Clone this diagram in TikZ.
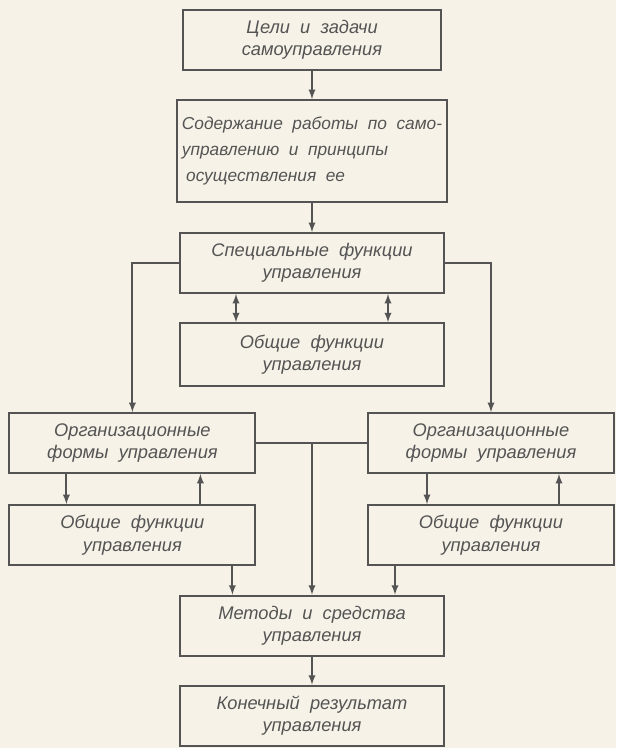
\documentclass[tikz,border=0pt]{standalone}
\usepackage{fontspec}
\setmainfont{Liberation Sans}[WordSpace={2,1.5,1}]
\usetikzlibrary{arrows, positioning}
\definecolor{paper}{RGB}{246,242,231}
\definecolor{ink}{RGB}{84,84,84}
\tikzset{
    mybox/.style = {
        rectangle,
        draw=ink,
        text=ink,
        line width=1.3pt,
        minimum width=6.6cm,
        minimum height=1.5cm,
        align=center,
        font=\fontsize{13}{16}\selectfont\itshape
    },
    mysidebox/.style = {
        mybox,
        minimum width=6.15cm
    },
    myarrow/.style = {
        draw=ink,
        line width=1.3pt,
        ->,
        >=latex
    },
    myline/.style = {
        draw=ink,
        line width=1.3pt
    }
}
\begin{document}
\begin{tikzpicture}[node distance=2.8cm]

% Fundo e limites
\fill[paper] (-7.8,1.0) rectangle (7.6,-17.7);

% Eixo central
\node (celi) [mybox, minimum width=6.45cm] {Цели и задачи\\самоуправления};
\node (soderzh) [mybox, below of=celi, node distance=2.775cm, minimum width=6.75cm, minimum height=2.55cm, align=left, font=\fontsize{12.3}{18.5}\selectfont\itshape] {Содержание работы по само-\\управлению и принципы\\\hspace{3pt}осуществления ее};
\node (spec) [mybox, below of=soderzh] {Специальные функции\\управления};
\node (obsch) [mybox, below of=spec, node distance=2.29cm, minimum height=1.575cm] {Общие функции\\управления};

% Ramos laterais
\node (orgL) [mysidebox, below of=spec, node distance=4.5cm, xshift=-4.49cm] {Организационные\\формы управления};
\node (orgR) [mysidebox, below of=spec, node distance=4.5cm, xshift=4.475cm] {Организационные\\формы управления};
\node (obschL) [mysidebox, below of=orgL, node distance=2.3cm] {Общие функции\\управления};
\node (obschR) [mysidebox, below of=orgR, node distance=2.3cm] {Общие функции\\управления};

% Base
\node (metody) [mybox, below of=obsch, node distance=6.775cm] {Методы и средства\\управления};
\node (itog) [mybox, below of=metody, node distance=2.25cm] {Конечный результат\\управления};

% Setas do eixo
\draw [myarrow] (celi) -- (soderzh);
\draw [myarrow] (soderzh) -- (spec);
\draw [myarrow, <->] ([xshift=-1.9cm]spec.south) -- ([xshift=-1.9cm]obsch.north);
\draw [myarrow, <->] ([xshift=1.9cm]spec.south) -- ([xshift=1.9cm]obsch.north);
\draw [myarrow] (spec.west) -| (orgL.north);
\draw [myarrow] (spec.east) -| (orgR.north);

% Ligacao entre as formas
\draw [myline] (orgL.east) -- (orgR.west);
\draw [myarrow] (orgL.east -| metody.north) -- (metody.north);

% Esquerda
\draw [myarrow] ([xshift=-1.65cm]orgL.south) -- ([xshift=-1.65cm]obschL.north);
\draw [myarrow] ([xshift=1.7cm]obschL.north) -- ([xshift=1.7cm]orgL.south);
\draw [myarrow] ([xshift=2.5cm]obschL.south) -- ([xshift=2.5cm]obschL.south |- metody.north);

% Direita
\draw [myarrow] ([xshift=-1.6cm]orgR.south) -- ([xshift=-1.6cm]obschR.north);
\draw [myarrow] ([xshift=1.7cm]obschR.north) -- ([xshift=1.7cm]orgR.south);
\draw [myarrow] ([xshift=-2.4cm]obschR.south) -- ([xshift=-2.4cm]obschR.south |- metody.north);

\draw [myarrow] (metody) -- (itog);

\end{tikzpicture}
\end{document}
